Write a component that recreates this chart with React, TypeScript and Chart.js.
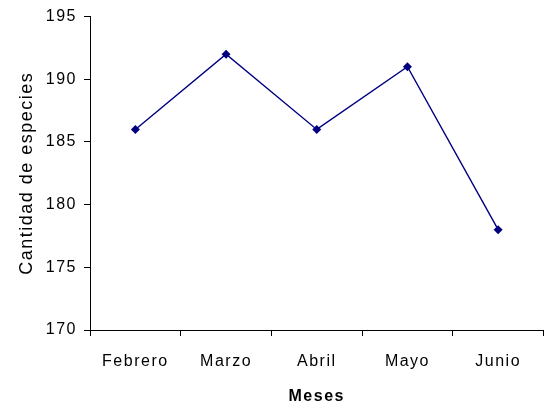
import React, { useEffect, useRef } from "react";
import { Chart, registerables } from "chart.js";

Chart.register(...registerables);

const months = ["Febrero", "Marzo", "Abril", "Mayo", "Junio"];
const species = [186, 192, 186, 191, 178];
const yMin = 170;
const yMax = 195;
const yStep = 5;

const FONT = "'Liberation Sans', Arial, sans-serif";

const spacingPlugin = {
  id: "spacing",
  beforeLayout(chart: any) {
    (chart.ctx as any).letterSpacing = "1.5px";
  },
  beforeDraw(chart: any) {
    (chart.ctx as any).letterSpacing = "1.5px";
  },
};

export default function App() {
  const ref = useRef<HTMLCanvasElement | null>(null);
  useEffect(() => {
    if (!ref.current) return;
    const chart = new Chart(ref.current, {
      type: "line",
      data: {
        labels: months,
        datasets: [
          {
            data: species,
            borderColor: "#000080",
            backgroundColor: "#000080",
            borderWidth: 1.4,
            pointStyle: "rectRot",
            pointRadius: 4.5,
            pointBorderWidth: 0,
            pointBackgroundColor: "#000080",
            tension: 0,
          },
        ],
      },
      options: {
        responsive: false,
        animation: false,
        layout: { padding: { top: 15, right: 2, bottom: 0, left: 0 } },
        plugins: { legend: { display: false }, tooltip: { enabled: false } },
        scales: {
          x: {
            offset: true,
            grid: {
              offset: true,
              drawOnChartArea: false,
              drawTicks: true,
              tickLength: 6,
              color: "#000",
            },
            border: { color: "#000", width: 1 },
            ticks: {
              color: "#000",
              padding: 16,
              font: { family: FONT, size: 16 },
              maxRotation: 0,
              autoSkip: false,
            },
            title: {
              display: true,
              text: "Meses",
              color: "#000",
              padding: 3,
              font: { family: FONT, size: 16, weight: "bold" },
            },
            afterFit(scale: any) {
              scale.height = 79;
            },
          },
          y: {
            min: yMin,
            max: yMax,
            grid: {
              drawOnChartArea: false,
              drawTicks: true,
              tickLength: 6,
              color: "#000",
            },
            border: { color: "#000", width: 1 },
            ticks: {
              stepSize: yStep,
              color: "#000",
              padding: 7,
              font: { family: FONT, size: 16 },
            },
            title: {
              display: true,
              text: "Cantidad de especies",
              color: "#000",
              padding: 16,
              font: { family: FONT, size: 18 },
            },
            afterFit(scale: any) {
              scale.width = 90;
            },
          },
        },
      },
      plugins: [spacingPlugin],
    } as any);
    return () => chart.destroy();
  }, []);
  return (
    <div style={{ position: "absolute", left: 0, top: 0, width: 548, height: 409, background: "#fff" }}>
      <canvas ref={ref} width={548} height={409} />
    </div>
  );
}
